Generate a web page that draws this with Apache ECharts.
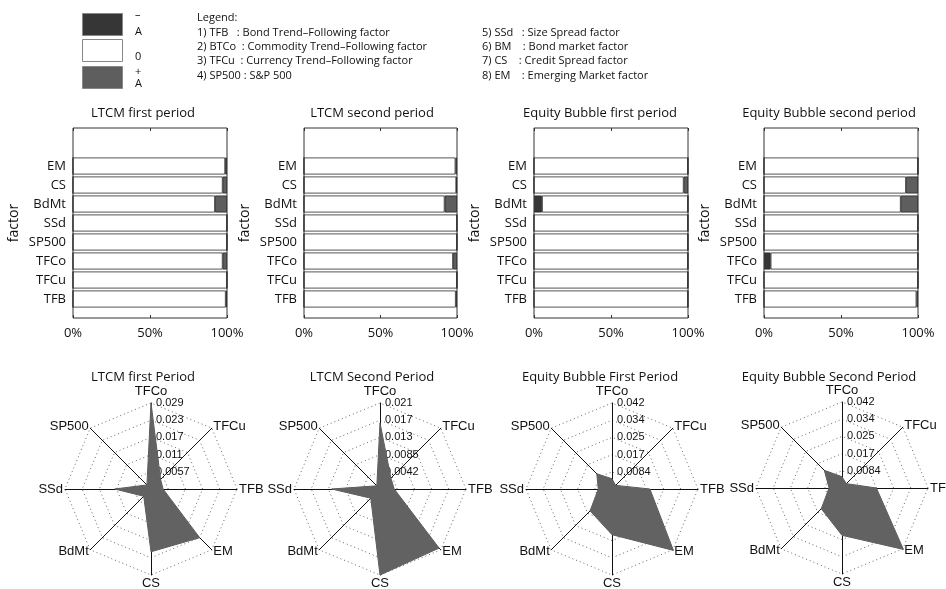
<!DOCTYPE html>
<html><head><meta charset="utf-8">
<script src="https://cdn.jsdelivr.net/npm/echarts@6/dist/echarts.min.js"></script>
<style>html,body{margin:0;padding:0;background:#fff}#c{width:946px;height:589px}</style>
</head><body><div id="c"></div>
<script>
// ---------- data ----------
const factors = ['TFB', 'TFCu', 'TFCo', 'SP500', 'SSd', 'BdMt', 'CS', 'EM'];
const barTitles = ['LTCM first period', 'LTCM second period', 'Equity Bubble first period', 'Equity Bubble second period'];
const radarTitles = ['LTCM first Period', 'LTCM Second Period', 'Equity Bubble First Period', 'Equity Bubble Second Period'];
const xTicks = [0, 50, 100];

// share of time (%) in each state: -A, 0, +A  (order follows factors)
const ltcm1Neg = [0, 0, 0, 0, 0, 0, 0, 0];
const ltcm1Zero = [99.2, 100, 97.2, 100, 100, 92.2, 97.2, 98.8];
const ltcm1Pos = [0.8, 0, 2.8, 0, 0, 7.8, 2.8, 1.2];
const ltcm2Neg = [0, 0, 0, 0, 0, 0, 0, 0];
const ltcm2Zero = [99.2, 100, 97.4, 100, 100, 91.9, 99.5, 99.0];
const ltcm2Pos = [0.8, 0, 2.6, 0, 0, 8.1, 0.5, 1.0];
const eb1Neg = [0, 0, 0, 0, 0, 5.2, 0, 0];
const eb1Zero = [100, 100, 100, 100, 100, 94.8, 97.2, 100];
const eb1Pos = [0, 0, 0, 0, 0, 0, 2.8, 0];
const eb2Neg = [0, 0, 4.3, 0, 0, 0, 0, 0];
const eb2Zero = [99.0, 100, 95.7, 100, 100, 88.8, 92.2, 100];
const eb2Pos = [1.0, 0, 0, 0, 0, 11.2, 7.8, 0];

// radar values (order follows factors)
const ltcm1Radar = [0.0040, 0.0045, 0.0285, 0.0019, 0.0120, 0.0034, 0.0208, 0.0228];
const ltcm2Radar = [0.0035, 0.0038, 0.0163, 0.0011, 0.0119, 0.0032, 0.0212, 0.0206];
const eb1Radar = [0.0185, 0.0025, 0.0050, 0.0105, 0.0067, 0.0151, 0.0223, 0.0424];
const eb2Radar = [0.0168, 0.0030, 0.0055, 0.0122, 0.0063, 0.0143, 0.0231, 0.0424];
const radarMax = [0.0285, 0.0212, 0.042, 0.042];
const ltcm1Ticks = ['0.0057', '0.011', '0.017', '0.023', '0.029'];
const ltcm2Ticks = ['0.0042', '0.0085', '0.013', '0.017', '0.021'];
const eb1Ticks = ['0.0084', '0.017', '0.025', '0.034', '0.042'];
const eb2Ticks = ['0.0084', '0.017', '0.025', '0.034', '0.042'];

const legendKeys = [['–', 'A'], ['0'], ['+', 'A']];
const legendLeft = ['Legend:', '1) TFB   : Bond Trend–Following factor', '2) BTCo  : Commodity Trend–Following factor',
  '3) TFCu  : Currency Trend–Following factor', '4) SP500 : S&P 500'];
const legendRight = ['5) SSd   : Size Spread factor', '6) BM    : Bond market factor',
  '7) CS    : Credit Spread factor', '8) EM    : Emerging Market factor'];

// ---------- layout / style ----------
const SANS = "'Open Sans', sans-serif";
const HELV = "'Liberation Sans', Arial, sans-serif";
const DARK = '#363636', MID = '#5e5e5e', TXT = '#111';
const grids = [
  { left: 73, top: 128, width: 154, height: 190 },
  { left: 304, top: 128, width: 153, height: 190 },
  { left: 534, top: 128, width: 154, height: 190 },
  { left: 764, top: 128, width: 154, height: 190 }
];
const titleX = [143, 372, 600, 829];
const radarCenters = [[151, 489], [380, 489], [612, 489], [842, 488]];
const barSets = [[ltcm1Neg, ltcm1Zero, ltcm1Pos], [ltcm2Neg, ltcm2Zero, ltcm2Pos], [eb1Neg, eb1Zero, eb1Pos], [eb2Neg, eb2Zero, eb2Pos]];
const radarSets = [ltcm1Radar, ltcm2Radar, eb1Radar, eb2Radar];
const tickSets = [ltcm1Ticks, ltcm2Ticks, eb1Ticks, eb2Ticks];

const yCats = [''].concat(factors, ['', '']);
const pad = a => ['-'].concat(a, ['-', '-']);

const option = {
  animation: false,
  backgroundColor: '#fff',
  title: [],
  grid: [], xAxis: [], yAxis: [], radar: [], series: [],
  graphic: []
};

grids.forEach((g, i) => {
  option.grid.push(Object.assign({ show: true, borderColor: '#333', borderWidth: 1, backgroundColor: 'transparent' }, g));
  option.title.push({ text: barTitles[i], left: titleX[i], top: 107, textAlign: 'center', padding: 0,
    textStyle: { fontFamily: SANS, fontSize: 13, fontWeight: 'normal', color: TXT } });
  option.xAxis.push({ type: 'value', gridIndex: i, min: 0, max: 100, interval: 50, position: 'bottom',
    axisLine: { show: false }, splitLine: { show: false },
    axisTick: { show: true, inside: true, length: 3, lineStyle: { color: '#333' } },
    axisLabel: { margin: 9, fontFamily: SANS, fontSize: 13, color: TXT,
      formatter: v => xTicks.indexOf(v) >= 0 ? v + '%' : '' } });
  option.xAxis.push({ type: 'value', gridIndex: i, min: 0, max: 100, interval: 50, position: 'top',
    axisLine: { show: false }, splitLine: { show: false }, axisLabel: { show: false },
    axisTick: { show: true, inside: true, length: 3, lineStyle: { color: '#333' } } });
  option.yAxis.push({ type: 'category', gridIndex: i, data: yCats, boundaryGap: false,
    axisLine: { show: false }, axisTick: { show: false }, splitLine: { show: false },
    axisLabel: { margin: 7, fontFamily: SANS, fontSize: 13, color: TXT, interval: 0 },
    name: 'factor', nameLocation: 'middle', nameGap: 52, nameRotate: 90,
    nameTextStyle: { fontFamily: SANS, fontSize: 14, color: TXT } });
  const cols = [DARK, '#ffffff', MID];
  barSets[i].forEach((arr, k) => {
    option.series.push({ type: 'bar', xAxisIndex: 2 * i, yAxisIndex: i, stack: 's' + i, barWidth: 17,
      data: pad(arr), itemStyle: { color: cols[k], borderColor: '#2a2a2a', borderWidth: 0.8 },
      emphasis: { disabled: true } });
  });

  // radar
  const M = radarMax[i], ticks = tickSets[i];
  option.title.push({ text: radarTitles[i], left: titleX[i], top: 371, textAlign: 'center', padding: 0,
    textStyle: { fontFamily: SANS, fontSize: 13, fontWeight: 'normal', color: TXT } });
  option.radar.push({
    center: radarCenters[i], radius: 86, startAngle: 0, splitNumber: 5, shape: 'polygon',
    nameGap: 2,
    axisName: { color: TXT, fontFamily: HELV, fontSize: 13 },
    axisLine: { lineStyle: { color: '#111', width: 1 } },
    axisTick: { show: false },
    axisLabel: { show: false },
    splitLine: { lineStyle: { color: '#666', type: [1, 3], width: 1 } },
    splitArea: { show: false },
    indicator: factors.map((f, k) => {
      const ind = { name: f, min: 0, max: M };
      if (k === 2) {
        ind.axisLabel = { show: true, showMinLabel: false, fontFamily: HELV, fontSize: 11, color: TXT,
          margin: -5, align: 'left', verticalAlign: 'middle',
          formatter: v => { const j = Math.round(v / M * 5); return j > 0 ? ticks[j - 1] : ''; } };
      }
      return ind;
    })
  });
  option.series.push({ type: 'radar', radarIndex: i, symbol: 'none', silent: true,
    lineStyle: { color: '#555', width: 1 }, areaStyle: { color: '#626262', opacity: 1 },
    data: [{ value: radarSets[i] }] });
});

// legend key (custom)
const keyColors = [DARK, '#ffffff', MID];
const keyTops = [13, 39, 66];
keyColors.forEach((c, k) => {
  option.graphic.push({ type: 'rect', shape: { x: 82.5, y: keyTops[k] + 0.5, width: 40, height: 22 },
    style: { fill: c, stroke: '#888', lineWidth: 1 } });
});
const keyLabelY = [[15, 32], [57], [72, 84]];
legendKeys.forEach((lab, k) => lab.forEach((t, j) => {
  option.graphic.push({ type: 'text', x: 135, y: keyLabelY[k][j],
    style: { text: t, fill: TXT, font: "11px 'Open Sans'", textVerticalAlign: 'middle' } });
}));
legendLeft.forEach((t, k) => option.graphic.push({ type: 'text', x: 197, y: 18 + k * 14.4,
  style: { text: t, fill: TXT, font: "11px 'Open Sans'", textVerticalAlign: 'middle' } }));
legendRight.forEach((t, k) => option.graphic.push({ type: 'text', x: 482, y: 32.4 + k * 14.4,
  style: { text: t, fill: TXT, font: "11px 'Open Sans'", textVerticalAlign: 'middle' } }));

const chart = echarts.init(document.getElementById('c'), null, { renderer: 'canvas' });
chart.setOption(option);
</script></body></html>
